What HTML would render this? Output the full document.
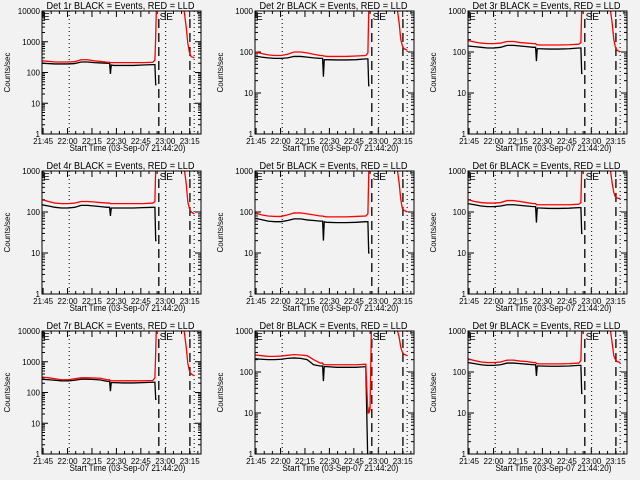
<!DOCTYPE html>
<html><head><meta charset="utf-8"><style>
body{margin:0;background:#f2f2f2;}
svg{display:block;font-family:"Liberation Sans",sans-serif;}
</style></head><body>
<svg id="c" width="640" height="480" viewBox="0 0 640 480" xmlns="http://www.w3.org/2000/svg">
<rect width="640" height="480" fill="#f2f2f2"/>
</svg>
<script>
// time in minutes since 21:44:20
const tPre = [0, 4, 8, 12, 16, 20, 24, 28, 32, 36, 40, 41.5, 42, 42.5, 44, 50, 56, 62, 68, 69.3, 69.8, 70.3];
const tRise = [69.3, 70.0, 70.6, 71.0, 71.4];
const tPost = [86.5, 87.5, 88.5, 89.5, 90.5, 91.5, 93.5];
const xTickLabels = ["21:45","22:00","22:15","22:30","22:45","23:00","23:15"];
const xTickTimes = [0.67, 15.67, 30.67, 45.67, 60.67, 75.67, 90.67];
const dashedTimes = [71.7, 90.8];
const dottedTimes = [16.7, 75.9, 93.4];
const panelNames = ["1r","2r","3r","4r","5r","6r","7r","8r","9r"];
const panelTops = [10000,1000,1000,1000,1000,1000,10000,1000,1000];
const blackP1 = [200,195,190,190,190,195,220,220,210,205,200,200,90,175,170,170,170,175,180,180,40,40];
const redP1 = [240,230,220,220,220,225,260,260,240,230,215,215,210,210,210,210,210,210,215,250,1500,20000];
const blackP2 = [80,75,72,70,70,72,78,78,75,72,70,70,25,65,65,64,64,65,68,68,15,15];
const redP2 = [100,92,85,82,82,88,100,100,95,88,82,82,80,80,78,78,78,80,82,95,1000,20000];
const blackP3 = [140,135,130,125,125,130,145,145,140,135,130,130,60,120,120,118,118,120,125,125,30,30];
const redP3 = [190,175,165,160,160,165,180,180,170,165,160,160,150,150,148,148,148,150,155,170,1200,20000];
const blackP4 = [150,140,130,125,125,130,145,145,140,135,130,130,80,125,125,125,125,128,130,130,20,20];
const redP4 = [200,180,165,160,160,165,180,180,175,170,165,165,160,160,160,160,160,160,165,180,1200,20000];
const blackP5 = [70,65,60,58,58,62,68,68,64,62,60,60,20,58,56,55,55,56,58,58,10,10];
const redP5 = [95,85,80,78,78,85,95,95,90,85,80,80,78,78,76,76,76,78,80,90,800,20000];
const blackP6 = [160,150,140,135,135,140,150,150,145,140,135,135,55,125,125,122,122,124,128,128,30,30];
const redP6 = [200,180,170,165,165,170,190,190,180,170,160,160,150,150,150,150,150,150,155,170,1200,20000];
const blackP7 = [270,260,250,240,240,250,270,270,265,255,230,230,110,210,210,205,205,210,215,215,60,60];
const redP7 = [320,300,280,260,260,280,300,300,295,290,260,260,240,240,240,240,240,240,245,300,2000,30000];
const blackP8 = [210,205,200,200,205,215,220,215,200,150,140,140,60,135,135,130,130,130,135,0.5,0.5,0.5];
const redP8 = [260,250,240,240,245,255,265,260,250,200,165,165,150,150,150,150,150,150,155,10,10,14];
const blackP9 = [170,160,150,145,145,150,165,165,160,155,150,150,80,140,140,138,138,140,145,145,30,30];
const redP9 = [210,190,175,170,170,175,195,195,185,180,170,170,160,160,158,158,158,160,165,190,1200,20000];
const redPostP = [
 [20000,8000,3000,900,450,330,300],
 [1500,1000,500,200,140,120,110],
 [1500,1000,500,200,130,110,100],
 [1500,1000,500,180,120,100,90],
 [1500,1000,500,200,120,110,100],
 [1500,1000,500,300,230,220,210],
 [20000,8000,3000,900,500,400,350],
 [1500,1000,700,400,300,270,250],
 [1500,1000,500,250,200,180,170]
];
const blackAll=[blackP1,blackP2,blackP3,blackP4,blackP5,blackP6,blackP7,blackP8,blackP9];
const redAll=[redP1,redP2,redP3,redP4,redP5,redP6,redP7,redP8,redP9];
const redRiseP8=[10,12,300,3000,20000];

const NS="http://www.w3.org/2000/svg";
const svg=document.getElementById('c');
function mk(tag,attrs,parent){const e=document.createElementNS(NS,tag);for(const k in attrs)e.setAttribute(k,attrs[k]);(parent||svg).appendChild(e);return e;}

for(let p=0;p<9;p++){
 const col=p%3,row=Math.floor(p/3);
 const L=42+213*col,R=201+213*col,T=11+160*row,B=134+160*row;
 const top=panelTops[p],dec=Math.log10(top);
 const xs=t=>L+t*(R-L)/97.6;
 const ys=v=>B-Math.log10(v)/dec*(B-T);
 const g=mk('g',{});
 
 
 const cid='clip'+p;
 const cp=mk('clipPath',{id:cid},g);mk('rect',{x:L,y:T,width:R-L,height:B-T},cp);
 const tt=mk('text',{x:(L+R)/2-1,y:T-2,'text-anchor':'middle','font-size':10,textLength:148,lengthAdjust:'spacingAndGlyphs'},g);
 tt.textContent='Det '+panelNames[p]+' BLACK = Events, RED = LLD';
 
 
 const yt=mk('text',{x:0,y:0,'text-anchor':'middle','font-size':8,transform:`translate(${L-32},${(T+B)/2}) rotate(-90)`},g);
 yt.textContent='Counts/sec';
 
 
 const xt=mk('text',{x:(L+R)/2+6,y:B+17,'text-anchor':'middle','font-size':9,textLength:116,lengthAdjust:'spacingAndGlyphs'},g);
 xt.textContent='Start Time (03-Sep-07 21:44:20)';
 
 
 for(let d=0;d<=dec;d++){
  const y=ys(Math.pow(10,d));
  mk('line',{x1:L,x2:L+6,y1:y,y2:y,stroke:'#000'},g);
  mk('line',{x1:R,x2:R-6,y1:y,y2:y,stroke:'#000'},g);
  const lb=mk('text',{x:L-2,y:y+3,'text-anchor':'end','font-size':8},g);
  lb.textContent=String(Math.pow(10,d));
  
  
  if(d<dec)for(let m=2;m<10;m++){const ym=ys(m*Math.pow(10,d));
   mk('line',{x1:L,x2:L+3,y1:ym,y2:ym,stroke:'#000'},g);
   mk('line',{x1:R,x2:R-3,y1:ym,y2:ym,stroke:'#000'},g);}
 }
 xTickTimes.forEach((t,i)=>{const x=xs(t);
  mk('line',{x1:x,x2:x,y1:B,y2:B-6,stroke:'#000'},g);
  mk('line',{x1:x,x2:x,y1:T,y2:T+6,stroke:'#000'},g);
  for(let m=1;m<3;m++){const xm=xs(t+m*5);if(xm<R){
   mk('line',{x1:xm,x2:xm,y1:B,y2:B-3,stroke:'#000'},g);
   mk('line',{x1:xm,x2:xm,y1:T,y2:T+3,stroke:'#000'},g);}}
  const lb=mk('text',{x:x,y:B+10,'text-anchor':'middle','font-size':8},g);
  lb.textContent=xTickLabels[i];
  
  
 });
 dottedTimes.forEach(t=>{const l=mk('line',{x1:xs(t),x2:xs(t),y1:T,y2:B,stroke:'#000','stroke-dasharray':'1,3'},g);
  });
 dashedTimes.forEach(t=>{const l=mk('line',{x1:xs(t),x2:xs(t),y1:T+8,y2:B,stroke:'#000','stroke-width':1.3,'stroke-dasharray':'9,5'},g);
  });
 const dg=mk('g',{'clip-path':`url(#${cid})`},g);
 const bl=mk('polyline',{fill:'none',stroke:'#000','stroke-width':1.3,points:tPre.map((t,i)=>xs(t)+','+ys(blackAll[p][i])).join(' ')},dg);
 
 let rpts=tPre.map((t,i)=>xs(t)+','+ys(redAll[p][i]));
 if(p===7)rpts=rpts.concat(tRise.map((t,i)=>xs(t+0.6)+','+ys(redRiseP8[i])));
 const rl=mk('polyline',{fill:'none',stroke:'#f00','stroke-width':1.3,points:rpts.join(' ')},dg);
 
 const rp=mk('polyline',{fill:'none',stroke:'#f00','stroke-width':1.3,points:tPost.map((t,i)=>xs(t)+','+ys(redPostP[p][i])).join(' ')},dg);
 
 const bx=mk('rect',{x:L,y:T,width:R-L,height:B-T,fill:'none',stroke:'#000'},g);
 
 const e1=mk('text',{x:L+1,y:T+9,'font-size':10},g);e1.textContent='E';
 
 const e2=mk('text',{x:xs(72.2),y:T+9,'font-size':10},g);e2.textContent='SE';
 
}
</script>
</body></html>
